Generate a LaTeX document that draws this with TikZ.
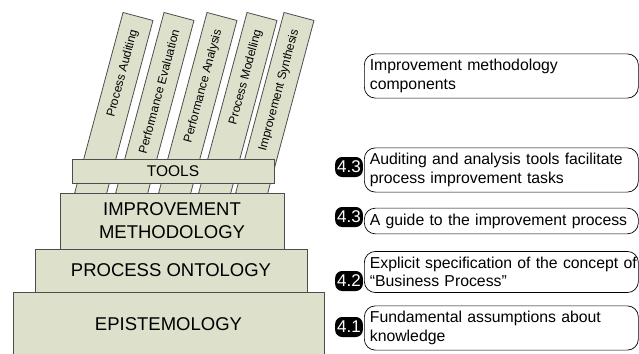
\documentclass[tikz,border=0pt]{standalone}
\usepackage{fontspec}
\setmainfont{Liberation Sans}
\usetikzlibrary{positioning}
\usetikzlibrary{calc}

\definecolor{layerfill}{HTML}{DDE0CB}
\definecolor{layerline}{HTML}{4D4D4D}

\tikzset{
  layer/.style={draw=layerline, fill=layerfill, line width=0.9pt, outer sep=0pt,
    inner sep=0pt, align=center, font=\fontsize{18.5}{23}\selectfont},
  tool/.style={draw=layerline, fill=layerfill, line width=0.8pt, rotate=75,
    minimum width=187pt, minimum height=31pt, inner sep=0pt},
  toollabel/.style={rotate=75, anchor=east, inner sep=0pt,
    font=\fontsize{12}{14}\selectfont},
  note/.style={draw=black, line width=0.7pt, rounded corners=11pt, anchor=west,
    text width=263pt, inner xsep=5.5pt, inner ysep=5.5pt, align=left,
    font=\fontsize{15.8}{18.5}\selectfont},
  badge/.style={fill=black, text=white, rounded corners=7pt, inner xsep=2pt,
    inner ysep=0pt, minimum height=20pt, minimum width=23pt, anchor=east,
    font=\fontsize{17}{18}\selectfont},
}

\begin{document}
\begin{tikzpicture}[x=1pt, y=-1pt]
  \useasboundingbox (0,0) rectangle (639,353);
  \clip (0,0) rectangle (639,353);

  % the tilted tool bars
  \foreach \barname/\dx/\txt in {audit/0/Process Auditing,
      evaluate/41/Performance Evaluation, analyse/84/Performance Analysis,
      model/124/Process Modelling, synth/161/Improvement Synthesis} {
    \node[tool] (\barname) at (113.8+\dx,106.8) {};
    \node[toollabel] at ($(\barname.east)!14pt!(\barname.west)$) {\txt};
  }

  % the layers
  \node[layer, minimum width=311pt, minimum height=64pt] (epist) at (168.5,324)
    {EPISTEMOLOGY};
  \node[layer, minimum width=272pt, minimum height=43pt, above=0pt of epist,
    xshift=2.5pt] (onto) {PROCESS ONTOLOGY};
  \node[layer, minimum width=224pt, minimum height=56pt, above=0pt of onto,
    xshift=1pt] (method) {IMPROVEMENT\\METHODOLOGY};
  \node[layer, minimum width=202pt, minimum height=24pt, above=10pt of method,
    xshift=1pt, font=\fontsize{15.5}{18}\selectfont] (tools) {TOOLS};

  % notes on the right
  \coordinate (rcol) at (364,0);
  \node[note] (ncomp) at (364,76) {Improvement methodology\\components};
  \node[note] (ntools) at ([yshift=1pt]tools -| rcol)
    {Auditing and analysis tools facilitate\\process improvement tasks};
  \node[note] (nmethod) at (method -| rcol) {A guide to the improvement process};
  \node[note] (nonto) at ([yshift=-1.5pt]onto -| rcol)
    {\mbox{Explicit specification of the concept of}\\“Business Process”};
  \node[note] (nepist) at ([yshift=-4pt]epist -| rcol)
    {Fundamental assumptions about\\knowledge};

  % section badges
  \node[badge] (btools) at ([xshift=-1pt,yshift=3pt]ntools.west) {4.3};
  \node[badge] (bmethod) at ([xshift=-1pt,yshift=4pt]nmethod.west) {4.3};
  \node[badge] (bonto) at ([xshift=-1pt,yshift=-9pt]nonto.west) {4.2};
  \node[badge] (bepist) at ([xshift=-1pt,yshift=1pt]nepist.west) {4.1};
\end{tikzpicture}
\end{document}
